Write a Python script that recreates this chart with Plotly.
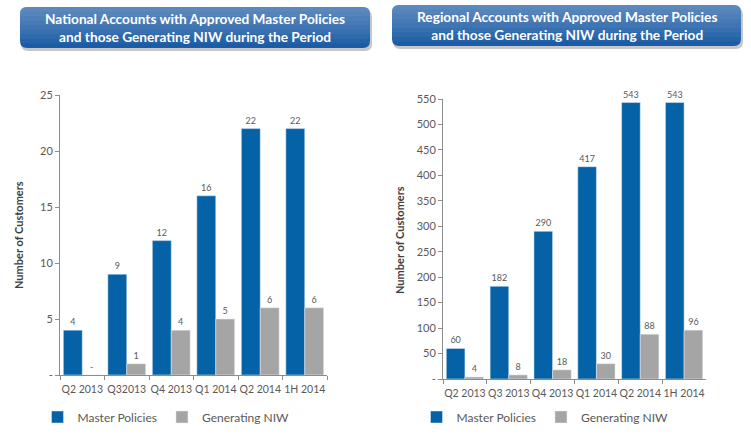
import plotly.graph_objects as go

# data
nat_categories = ['Q2 2013', 'Q32013', 'Q4 2013', 'Q1 2014', 'Q2 2014', '1H 2014']
nat_master = [4, 9, 12, 16, 22, 22]
nat_niw = [0, 1, 4, 5, 6, 6]

reg_categories = ['Q2 2013', 'Q3 2013', 'Q4 2013', 'Q1 2014', 'Q2 2014', '1H 2014']
reg_master = [60, 182, 290, 417, 543, 543]
reg_niw = [4, 8, 18, 30, 88, 96]

nat_ticks = [0, 5, 10, 15, 20, 25]
reg_ticks = [0, 50, 100, 150, 200, 250, 300, 350, 400, 450, 500, 550]

nat_title = 'National Accounts with Approved Master Policies<br>and those Generating NIW during the Period'
reg_title = 'Regional Accounts with Approved Master Policies<br>and those Generating NIW during the Period'

W, H = 751, 434
BLUE = '#0562A6'
GREY = '#A5A5A5'
TXT = '#595959'
FONT = 'Lato'


def px(x):
    return x / W


def py(y):
    return 1 - y / H


def fmt(v):
    # accounting style: zero shows as a dash
    return '-' if v == 0 else str(v)


def rounded(x0, y0, x1, y1, r=6, bottom_round=True):
    # rounded box path in paper coords, pixel inputs (y down)
    rx, ry = r / W, r / H
    X0, X1 = px(x0), px(x1)
    Y0, Y1 = py(y0), py(y1)  # Y0 top, Y1 bottom
    p = f'M {X0 + rx} {Y0} L {X1 - rx} {Y0} Q {X1} {Y0} {X1} {Y0 - ry} '
    if bottom_round:
        p += f'L {X1} {Y1 + ry} Q {X1} {Y1} {X1 - rx} {Y1} L {X0 + rx} {Y1} Q {X0} {Y1} {X0} {Y1 + ry} '
    else:
        p += f'L {X1} {Y1} L {X0} {Y1} '
    p += f'L {X0} {Y0 - ry} Q {X0} {Y0} {X0 + rx} {Y0} Z'
    return p


fig = go.Figure()

panels = [
    (nat_categories, nat_master, nat_niw, 'x', 'y', 'legend'),
    (reg_categories, reg_master, reg_niw, 'x2', 'y2', 'legend2'),
]
for cats, master, niw, xa, ya, lg in panels:
    fig.add_trace(go.Bar(
        x=cats, y=master, name='Master Policies',
        marker=dict(color=BLUE), xaxis=xa, yaxis=ya, legend=lg,
        text=[fmt(v) for v in master], textposition='outside',
        textfont=dict(size=9, color=TXT), cliponaxis=False, constraintext='none'
    ))
    fig.add_trace(go.Bar(
        x=cats, y=niw, name='Generating NIW',
        marker=dict(color=GREY), xaxis=xa, yaxis=ya, legend=lg,
        text=[fmt(v) for v in niw], textposition='outside',
        textfont=dict(size=9, color=TXT), cliponaxis=False, constraintext='none'
    ))

axis_common = dict(
    showgrid=False, zeroline=False, showline=True, linecolor='#8C8C8C', linewidth=1,
    ticks='outside', ticklen=4, tickcolor='#8C8C8C', automargin=False,
    tickfont=dict(family=FONT, size=11, color=TXT), fixedrange=True
)
xfont = dict(family=FONT, size=10.5, color=TXT)
legfont = dict(family=FONT, size=12, color=TXT)

fig.update_layout(
    width=W, height=H,
    margin=dict(l=0, r=0, t=0, b=0),
    paper_bgcolor='white', plot_bgcolor='white',
    font=dict(family=FONT, color=TXT),
    barmode='group', bargap=0.15, bargroupgap=0,
    xaxis=dict(domain=[px(60), px(327)], anchor='y', tickson='boundaries', tickangle=0, **axis_common),
    yaxis=dict(domain=[py(375), py(95)], anchor='x', range=[0, 25],
               tickvals=nat_ticks, ticktext=[fmt(v) for v in nat_ticks], **axis_common),
    xaxis2=dict(domain=[px(443), px(706)], anchor='y2', tickson='boundaries', tickangle=0, **axis_common),
    yaxis2=dict(domain=[py(379), py(99)], anchor='x2', range=[0, 550],
                tickvals=reg_ticks, ticktext=[fmt(v) for v in reg_ticks], **axis_common),
    legend=dict(orientation='h', x=px(166), xanchor='center', y=py(417), yanchor='middle',
                itemwidth=30, font=legfont, traceorder='normal'),
    legend2=dict(orientation='h', x=px(545), xanchor='center', y=py(417), yanchor='middle',
                 itemwidth=30, font=legfont, traceorder='normal'),
)
fig.update_xaxes(tickfont=xfont, ticklabelstandoff=4)

# title boxes with a soft shadow and a top-light gradient
shapes = []
boxes = [((20, 7, 370, 48), nat_title), ((392, 5, 741, 46), reg_title)]
for (x0, y0, x1, y1), title in boxes:
    shapes.append(dict(type='path', xref='paper', yref='paper',
                       path=rounded(x0 + 1, y0 + 3, x1 + 2, y1 + 3, 7),
                       fillcolor='rgba(0,0,0,0.22)', line=dict(width=0)))
    shapes.append(dict(type='path', xref='paper', yref='paper',
                       path=rounded(x0, y0, x1, y1, 7),
                       fillcolor='#1C5CA6', line=dict(width=0)))
    n = 8
    for i in range(n):
        bottom = y1 - (y1 - y0) * (i + 1) / (n + 1)
        shapes.append(dict(type='path', xref='paper', yref='paper',
                           path=rounded(x0, y0, x1, bottom, 7, bottom_round=False),
                           fillcolor='rgba(255,255,255,0.045)', line=dict(width=0)))
    fig.add_annotation(x=px((x0 + x1) / 2), y=py((y0 + y1) / 2 + 0.5), xref='paper', yref='paper',
                       text='<b>' + title.replace('<br>', '</b><br><b>') + '</b>',
                       showarrow=False, align='center', xanchor='center', yanchor='middle',
                       font=dict(family=FONT, size=13.7, color='white'))
fig.update_layout(shapes=shapes)

# y axis titles
for x, y in [(18, 235), (399, 240)]:
    fig.add_annotation(x=px(x), y=py(y), xref='paper', yref='paper', text='<b>Number of Customers</b>',
                       textangle=-90, showarrow=False, xanchor='center', yanchor='middle',
                       font=dict(family=FONT, size=11, color='#404040'))

# the page body has a default 8px margin; drop it so the figure sits at 0,0
fig.write_html('out.html', config={'displayModeBar': False, 'staticPlot': True},
               post_script="document.body.style.margin='0';")
